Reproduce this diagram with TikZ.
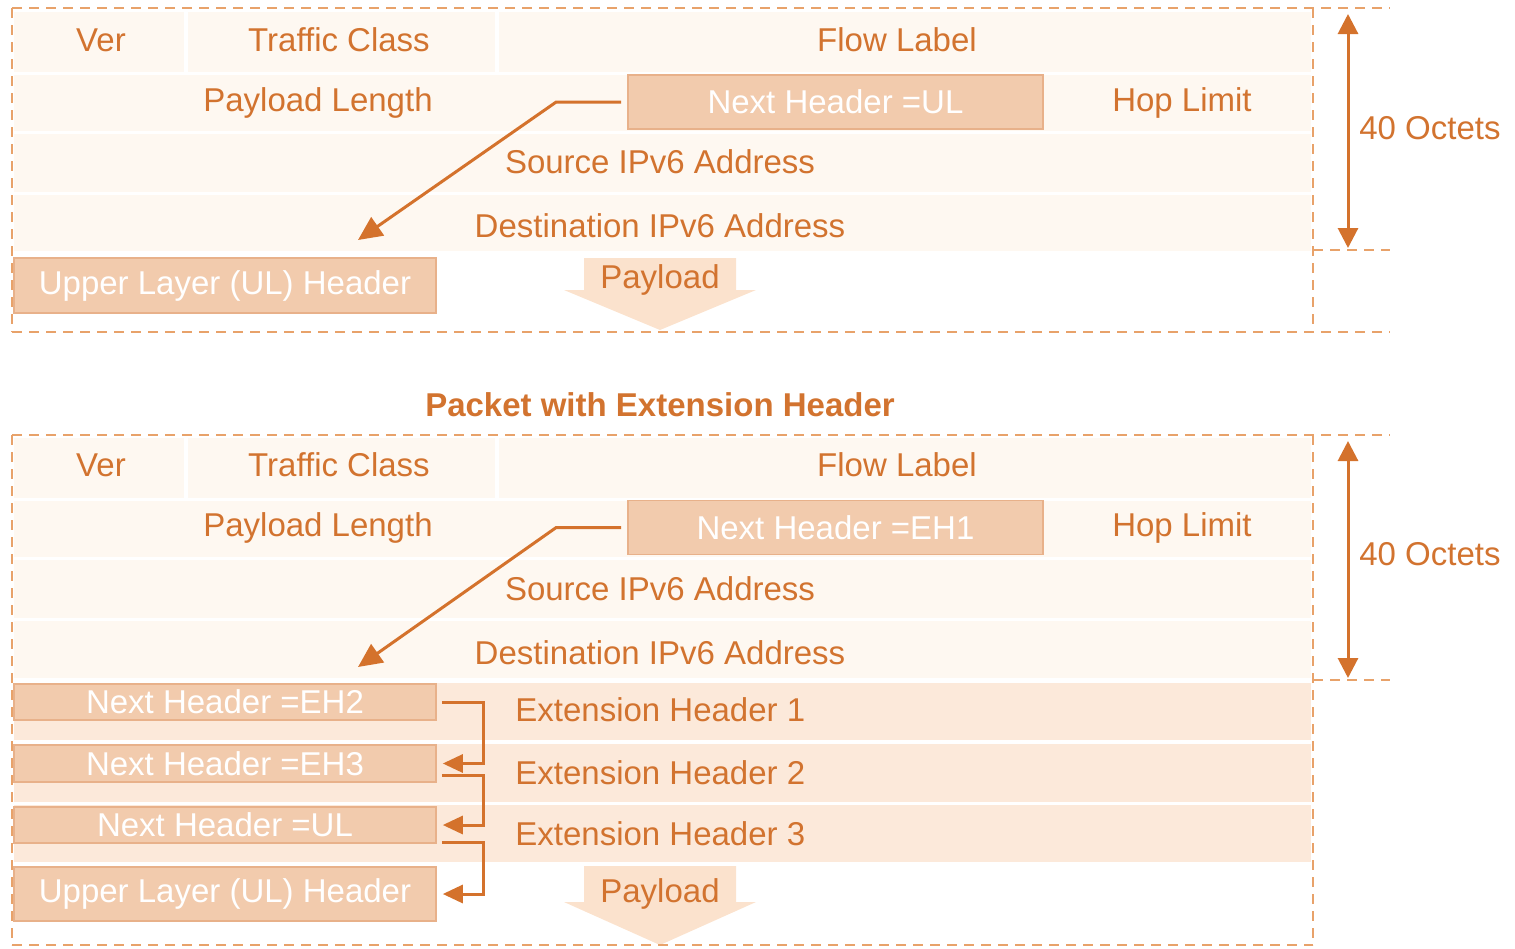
\documentclass[tikz,border=0pt]{standalone}
\usepackage{fontspec}
\setmainfont{Liberation Sans}
\usetikzlibrary{arrows.meta}
\definecolor{org}{HTML}{D2732F}
\definecolor{lnc}{HTML}{D4722C}
\definecolor{dashc}{HTML}{E8A26A}
\definecolor{boxf}{HTML}{F2CBAD}
\definecolor{boxd}{HTML}{E8B18A}
\definecolor{rowf}{HTML}{FEF8F1}
\definecolor{extf}{HTML}{FCE9DA}
\definecolor{payf}{HTML}{FBE2CD}
\begin{document}
\begin{tikzpicture}[x=0.5pt,y=-0.5pt,
  every node/.style={font=\fontsize{16.5}{20}\selectfont, text=org, inner sep=0pt},
  nhbox/.style={draw=boxd, line width=0.8pt, fill=boxf, text=white, minimum width=207.5pt, minimum height=27pt},
  lbox/.style={draw=boxd, line width=0.8pt, fill=boxf, text=white, minimum width=211pt},
  conn/.style={draw=lnc, line width=1.5pt, -{Triangle[length=10pt,width=9pt]}},
  diag/.style={draw=lnc, line width=1.5pt, -{Triangle[length=12pt,width=11pt]}},
  dbl/.style={draw=lnc, line width=1.5pt, {Triangle[length=10pt,width=10pt]}-{Triangle[length=10pt,width=10pt]}},
  dashline/.style={draw=dashc, line width=1.3pt, dash pattern=on 5pt off 3.5pt},
  titlef/.style={font=\fontsize{16.5}{20}\selectfont\bfseries}]
\useasboundingbox (0,0) rectangle (1515,948);

% ---------- top packet ----------
\fill[rowf] (14,12) rectangle (184,72);
\fill[rowf] (188,12) rectangle (495,72);
\fill[rowf] (499,12) rectangle (1311,72);
\fill[rowf] (14,75) rectangle (1311,131);
\fill[rowf] (14,134) rectangle (1311,192);
\fill[rowf] (14,195) rectangle (1311,251);

\fill[payf] (584,258) -- (736,258) -- (736,290) -- (756,290) -- (660,330) -- (564,290) -- (584,290) -- cycle;

\draw[dashline] (12,8) -- (1390,8);
\draw[dashline] (12,8) -- (12,332);
\draw[dashline] (1313,8) -- (1313,332);
\draw[dashline] (1313,250) -- (1390,250);
\draw[dashline] (12,332) -- (1390,332);

\node (ver1) at (101,40) {Ver};
\node (tc1) at (339,40) {Traffic Class};
\node (fl1) at (897,40) {Flow Label};
\node (pl1) at (318,103) {Payload Length};
\node[nhbox] (nh1) at (835.5,102) {Next Header =UL};
\node (hl1) at (1182,103) {Hop Limit};
\node (src1) at (660,162) {Source IPv6 Address};
\node (dst1) at (660,226) {Destination IPv6 Address};
\node[lbox, minimum height=27.5pt] (ul1) at (225,285.5) {Upper Layer (UL) Header};
\node (pay1) at (660,280) {Payload};
\coordinate (t1) at (358,240);
\draw[diag, shorten <=3pt] (nh1.west) -- ++(-71,0) -- (t1);

\coordinate (oa1) at (1348,14);
\coordinate (ob1) at (1348,248);
\draw[dbl] (oa1) -- (ob1);
\node (oct1) at (1430,128) {40 Octets};

% ---------- title ----------
\node[titlef] (title) at (660,405) {Packet with Extension Header};

% ---------- bottom packet ----------
\fill[rowf] (14,438) rectangle (184,498);
\fill[rowf] (188,438) rectangle (495,498);
\fill[rowf] (499,438) rectangle (1311,498);
\fill[rowf] (14,501) rectangle (1311,557);
\fill[rowf] (14,560) rectangle (1311,618);
\fill[rowf] (14,621) rectangle (1311,678);

\fill[extf] (14,683) rectangle (1311,740);
\fill[extf] (14,744) rectangle (1311,802);
\fill[extf] (14,805) rectangle (1311,862);

\fill[payf] (584,866) -- (736,866) -- (736,902) -- (756,902) -- (660,945) -- (564,902) -- (584,902) -- cycle;

\draw[dashline] (12,435) -- (1390,435);
\draw[dashline] (12,435) -- (12,945);
\draw[dashline] (1313,435) -- (1313,945);
\draw[dashline] (1313,680) -- (1390,680);
\draw[dashline] (12,945) -- (1313,945);

\node (ver2) at (101,465) {Ver};
\node (tc2) at (339,465) {Traffic Class};
\node (fl2) at (897,465) {Flow Label};
\node (pl2) at (318,528) {Payload Length};
\node[nhbox] (nh2) at (835.5,527.5) {Next Header =EH1};
\node (hl2) at (1182,528) {Hop Limit};
\node (src2) at (660,589) {Source IPv6 Address};
\node (dst2) at (660,653) {Destination IPv6 Address};
\coordinate (t2) at (358,667);
\draw[diag, shorten <=3pt] (nh2.west) -- ++(-71,0) -- (t2);

\coordinate (oa2) at (1348,441);
\coordinate (ob2) at (1348,678);
\draw[dbl] (oa2) -- (ob2);
\node (oct2) at (1430,554) {40 Octets};

\node[anchor=west] (e1) at (515,710) {Extension Header 1};
\node[anchor=west] (e2) at (515,773) {Extension Header 2};
\node[anchor=west] (e3) at (515,834) {Extension Header 3};

\node[lbox, minimum height=18pt] (eh2) at (225,702) {Next Header =EH2};
\node[lbox, minimum height=18.5pt] (eh3) at (225,763.5) {Next Header =EH3};
\node[lbox, minimum height=18pt] (nul) at (225,825) {Next Header =UL};
\node[lbox, minimum height=27pt] (ul2) at (225,894) {Upper Layer (UL) Header};
\node (pay2) at (660,894) {Payload};

\draw[conn, shorten <=2.5pt, shorten >=3pt] (eh2.east) -- ++(47,0) |- (eh3.east);
\draw[conn, shorten <=2.5pt, shorten >=3pt] ([yshift=-6pt]eh3.east) -- ++(47,0) |- (nul.east);
\draw[conn, shorten <=2.5pt, shorten >=3pt] ([yshift=-8.5pt]nul.east) -- ++(47,0) |- (ul2.east);
\end{tikzpicture}
\end{document}
